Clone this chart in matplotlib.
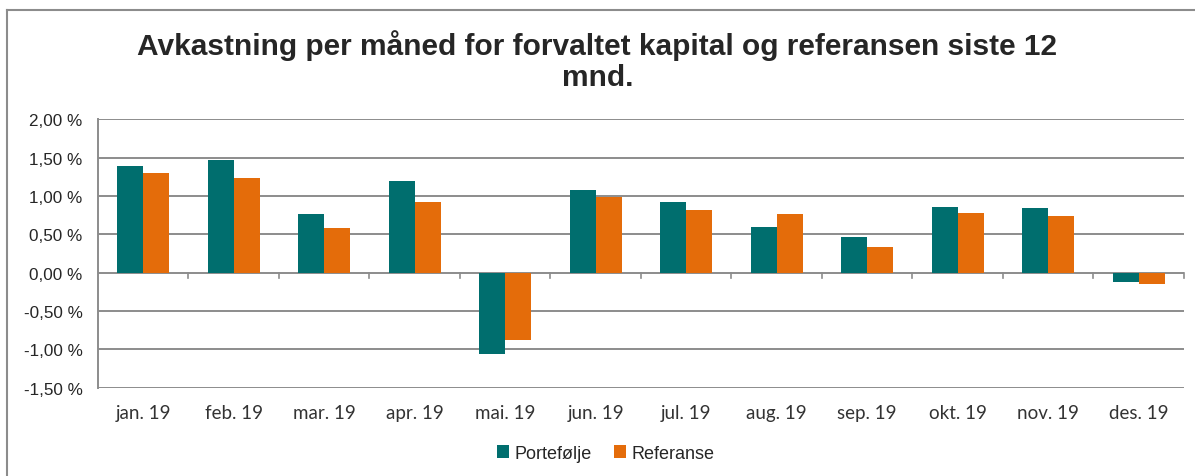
import numpy as np
import matplotlib.pyplot as plt
from matplotlib.lines import Line2D

months = ['jan. 19', 'feb. 19', 'mar. 19', 'apr. 19', 'mai. 19', 'jun. 19',
          'jul. 19', 'aug. 19', 'sep. 19', 'okt. 19', 'nov. 19', 'des. 19']
portefolje = [1.39, 1.47, 0.76, 1.20, -1.06, 1.08, 0.92, 0.60, 0.46, 0.86, 0.84, -0.12]
referanse = [1.30, 1.24, 0.58, 0.92, -0.88, 0.99, 0.82, 0.76, 0.34, 0.78, 0.74, -0.15]
y_ticks = [2.0, 1.5, 1.0, 0.5, 0.0, -0.5, -1.0, -1.5]

teal = '#006E6E'
orange = '#E46C0A'
grid_col = '#8C8C8C'

fig = plt.figure(figsize=(11.95, 4.77), dpi=100)
ax = fig.add_axes([0.0818, 0.185, 0.9090, 0.563])

x = np.arange(len(months))
w = 0.287
ax.bar(x - w / 2, portefolje, width=w, color=teal, label='Portefølje', zorder=3)
ax.bar(x + w / 2, referanse, width=w, color=orange, label='Referanse', zorder=3)

ax.set_xlim(-0.5, len(months) - 0.5)
ax.set_ylim(-1.5, 2.0)
ax.set_yticks(y_ticks)
ax.set_yticklabels([f"{v:.2f} %".replace('.', ',') for v in y_ticks],
                   fontsize=12.3, color='#262626', family='Liberation Sans')
ax.tick_params(axis='y', length=0, pad=11)

for y in y_ticks:
    ax.axhline(y, color=grid_col, lw=1.4, zorder=1)

# category ticks on the zero line
for b in np.arange(0.5, len(months) + 0.5, 1.0):
    ax.plot([b, b], [0, -0.07], color=grid_col, lw=1.2, zorder=2, clip_on=False)

ax.set_xticks(x)
ax.set_xticklabels(months, fontsize=13.5, color='#333333', family='Lato')
ax.tick_params(axis='x', length=0, pad=12)

for s in ['top', 'right', 'bottom']:
    ax.spines[s].set_visible(False)
ax.spines['left'].set_color(grid_col)
ax.spines['left'].set_linewidth(1.4)

fig.text(0.5, 0.872, 'Avkastning per måned for forvaltet kapital og referansen siste 12\nmnd.',
         ha='center', va='center', fontsize=21.5, fontweight='bold', color='#262626',
         family='Liberation Sans', linespacing=1.15)

leg = fig.legend(loc='center', bbox_to_anchor=(0.507, 0.048), ncol=2, frameon=False,
                 handlelength=0.7, handleheight=0.7, handletextpad=0.3,
                 columnspacing=1.2, prop={'family': 'Liberation Sans', 'size': 13})
for t in leg.get_texts():
    t.set_color('#262626')

# chart border (top and left visible)
fig.add_artist(Line2D([7 / 1195, 1.0], [1 - 11 / 477, 1 - 11 / 477], color='#8C8C8C', lw=1.5))
fig.add_artist(Line2D([7 / 1195, 7 / 1195], [0, 1 - 11 / 477], color='#8C8C8C', lw=1.5))

fig.savefig('out.png', dpi=100)
